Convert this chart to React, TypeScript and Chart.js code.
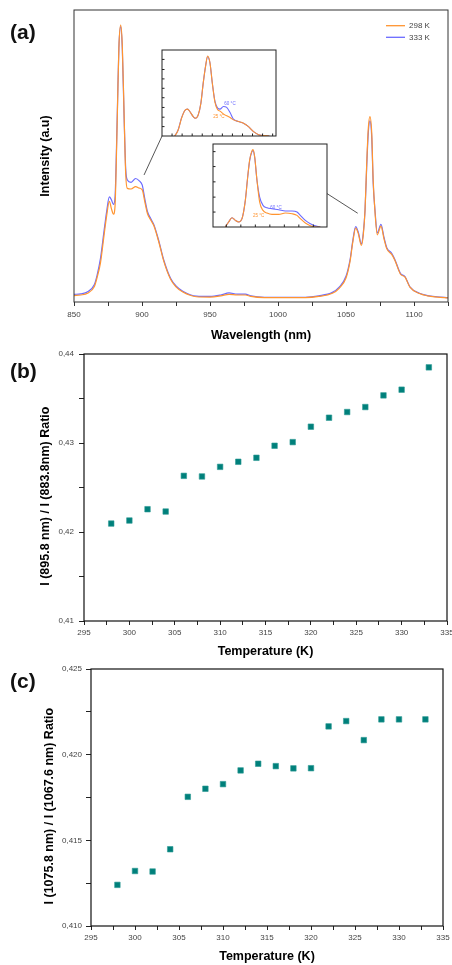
import React, { useEffect, useRef } from 'react';
import { Chart, registerables } from 'chart.js';

Chart.register(...registerables);

const FONT = "'Liberation Sans', Arial, Helvetica, sans-serif";

// ---------- Panel (a): emission spectra ----------
const WAVELENGTH = [
  850, 855, 860, 865, 867, 869.5, 872, 874, 876, 877.5, 879, 880.2, 881, 882, 883, 884.3, 885.5, 886.8,
  888, 889.2, 892, 895.3, 898, 900.2, 902, 904, 906.5, 908.8, 912.5, 916, 921, 925, 930, 940, 950, 958,
  964, 970, 976, 980, 990, 1000, 1020, 1030, 1040, 1045, 1050, 1053, 1055, 1057.1, 1059, 1061.3, 1062.7,
  1064, 1065.2, 1066.4, 1067.6, 1068.9, 1070, 1071.3, 1073, 1075.7, 1078, 1080, 1083.6, 1086, 1090,
  1093.4, 1097, 1104, 1110, 1117, 1125,
];
const I_298K = [
  2.2, 2.4, 3.0, 5.3, 8.4, 13.5, 22.5, 29.5, 34.5, 32, 30.1, 33, 46, 67, 87, 94.8, 88, 65,
  44, 38.9, 38.7, 39.5, 39, 38.4, 34.5, 30.3, 28, 26, 20.3, 14, 7.8, 5.2, 3.4, 1.8, 1.7, 2.1,
  2.6, 2.4, 2.4, 1.9, 1.5, 1.5, 1.5, 1.9, 3.0, 4.7, 8.2, 14, 20.5, 25.3, 23.5, 19.4, 23,
  31.5, 47, 59.5, 63.5, 58, 41.5, 31, 23, 26, 21.5, 18.2, 16.3, 14.2, 9.6,
  8.5, 5.1, 2.9, 2.1, 1.7, 1.4,
];
const I_333K = [
  2.6, 2.8, 3.5, 6, 9.2, 15, 24, 31, 36, 35, 33.4, 36, 48, 68, 87, 94.3, 87, 64,
  45.8, 41.8, 41, 42.3, 41.5, 40, 35.5, 31, 28.5, 26.4, 20.7, 14.4, 8.1, 5.5, 3.7, 2, 1.9, 2.4,
  3.1, 2.7, 2.7, 2.1, 1.6, 1.6, 1.6, 2.1, 3.3, 5.1, 8.8, 14.5, 21, 25.8, 24, 19.9, 23.5,
  31.5, 46, 58, 62, 56.6, 40.6, 31.5, 23.7, 26.6, 22, 18.6, 16.7, 14.5, 9.8,
  8.7, 5.2, 3, 2.2, 1.8, 1.5,
];
const SERIES_LABELS = ['298 K', '333 K'];
const SERIES_COLORS = ['#ff9430', '#6a6aff'];

// Connector lines from spectrum to insets (wavelength, intensity)
const CONNECTOR_1 = [901.5, 43.5, 914.9, 57];
const CONNECTOR_2 = [1035.8, 37.2, 1058.6, 30.4];

// ---------- Inset 1 (arbitrary units) ----------
const INSET1_X = [38, 48, 58, 68, 76, 83, 93, 100, 108, 116, 123, 130, 136, 143, 150, 158, 166, 173, 183, 193, 203, 213, 228, 243, 258, 273, 288, 308, 320];
const INSET1_298 = [0, 17, 52, 76, 80, 73, 58, 53, 63, 98, 158, 208, 238, 218, 158, 100, 78, 74, 66, 60, 55, 48, 43, 38, 28, 13, 4, 1, 0];
const INSET1_333 = [0, 18, 53, 76, 80, 73, 58, 53, 63, 98, 158, 208, 236, 218, 158, 103, 83, 80, 88, 85, 70, 50, 43, 38, 28, 13, 4, 1, 0];
const INSET1_XTICKS = [30, 60, 90, 120, 150, 180, 210, 240, 270, 300, 330];
const INSET1_YTICKS = [28, 56, 85, 114, 142, 170, 198, 228];
const INSET1_NOTES = [
  { text: '60 °C', x: 186, y: 95, s: 1 },
  { text: '25 °C', x: 153, y: 57, s: 0 },
];

// ---------- Inset 2 (arbitrary units) ----------
const INSET2_X = [37, 47, 57, 67, 77, 87, 97, 104, 110, 116, 120, 125, 132, 140, 150, 162, 177, 197, 217, 237, 252, 262, 277, 292, 312, 322];
const INSET2_298 = [0, 15, 28, 20, 15, 25, 80, 150, 202, 227, 233, 212, 140, 75, 50, 42, 38, 38, 42, 40, 35, 25, 12, 4, 0, 0];
const INSET2_333 = [0, 15, 28, 20, 15, 25, 80, 150, 200, 225, 230, 210, 140, 90, 65, 58, 55, 52, 48, 48, 45, 35, 20, 10, 2, 0];
const INSET2_XTICKS = [40, 83.5, 127, 170.5, 214, 257.5, 301];
const INSET2_YTICKS = [45, 90, 136, 182, 227];
const INSET2_NOTES = [
  { text: '60 °C', x: 172, y: 58, s: 1 },
  { text: '25 °C', x: 120, y: 35, s: 0 },
];

// ---------- Panels (b) and (c): ratios vs temperature ----------
const TEMPERATURE = [298, 300, 302, 304, 306, 308, 310, 312, 314, 316, 318, 320, 322, 324, 326, 328, 330, 333];
const RATIO_B = [0.42095, 0.42129, 0.42256, 0.4223, 0.42631, 0.42624, 0.42732, 0.42789, 0.42834, 0.42969, 0.4301, 0.43183, 0.43284, 0.43348, 0.43404, 0.43535, 0.43599, 0.4385];
const RATIO_C = [0.4124, 0.41321, 0.41318, 0.41448, 0.41754, 0.41801, 0.41828, 0.41908, 0.41947, 0.41933, 0.4192, 0.41921, 0.42165, 0.42196, 0.42085, 0.42206, 0.42206, 0.42206];

const TICK_FONT = { family: FONT, size: 8 };
const TITLE_FONT = { family: FONT, size: 12.5, weight: 'bold' as const };

const framePlugin = (color: string, width: number) => ({
  id: 'frame',
  afterDraw(chart: any) {
    const { ctx, chartArea: a } = chart;
    ctx.save();
    ctx.strokeStyle = color;
    ctx.lineWidth = width;
    ctx.strokeRect(a.left, a.top, a.right - a.left, a.bottom - a.top);
    ctx.restore();
  },
});

const noPad = (s: any) => {
  s.paddingLeft = 0;
  s.paddingRight = 0;
  s.paddingTop = 0;
  s.paddingBottom = 0;
};

function SpectrumChart() {
  const ref = useRef<HTMLCanvasElement>(null);
  useEffect(() => {
    const legendPlugin = {
      id: 'insideLegend',
      afterDraw(chart: any) {
        const { ctx, chartArea: a } = chart;
        ctx.save();
        chart.data.datasets.forEach((ds: any, i: number) => {
          const y = a.top + 15.7 + i * 11.6;
          ctx.strokeStyle = ds.borderColor;
          ctx.lineWidth = 1.3;
          ctx.beginPath();
          ctx.moveTo(a.right - 62, y);
          ctx.lineTo(a.right - 43, y);
          ctx.stroke();
          ctx.fillStyle = '#444';
          ctx.font = `8px ${FONT}`;
          ctx.textBaseline = 'middle';
          ctx.fillText(ds.label, a.right - 39, y + 0.5);
        });
        ctx.restore();
      },
    };
    const connectorPlugin = {
      id: 'connectors',
      afterDraw(chart: any) {
        const { ctx, scales } = chart;
        ctx.save();
        ctx.strokeStyle = '#444';
        ctx.lineWidth = 0.9;
        [CONNECTOR_1, CONNECTOR_2].forEach((c) => {
          ctx.beginPath();
          ctx.moveTo(scales.x.getPixelForValue(c[0]), scales.y.getPixelForValue(c[1]));
          ctx.lineTo(scales.x.getPixelForValue(c[2]), scales.y.getPixelForValue(c[3]));
          ctx.stroke();
        });
        ctx.restore();
      },
    };
    const chart = new Chart(ref.current!, {
      type: 'line',
      data: {
        datasets: [
          {
            label: SERIES_LABELS[0],
            data: WAVELENGTH.map((x, i) => ({ x, y: I_298K[i] })),
            borderColor: SERIES_COLORS[0],
            borderWidth: 1.2,
            pointRadius: 0,
            cubicInterpolationMode: 'monotone',
          },
          {
            label: SERIES_LABELS[1],
            data: WAVELENGTH.map((x, i) => ({ x, y: I_333K[i] })),
            borderColor: SERIES_COLORS[1],
            borderWidth: 1.2,
            pointRadius: 0,
            cubicInterpolationMode: 'monotone',
          },
        ],
      },
      options: {
        animation: false,
        responsive: false,
        layout: { padding: { left: 0, right: 4, top: 10, bottom: 0 }, autoPadding: false },
        plugins: { legend: { display: false }, tooltip: { enabled: false } },
        scales: {
          x: {
            type: 'linear',
            min: 850,
            max: 1125,
            afterFit: (s: any) => { s.height = 43; noPad(s); },
            ticks: {
              stepSize: 25,
              autoSkip: false,
              maxRotation: 0,
              padding: 4,
              font: TICK_FONT,
              color: '#444',
              callback: (v: any) => (Number(v) % 50 === 0 ? String(v) : ''),
            },
            grid: { drawOnChartArea: false, tickLength: 4, color: '#333' },
            border: { display: false },
            title: { display: true, text: 'Wavelength (nm)', font: TITLE_FONT, color: '#000', padding: { top: 0, bottom: 1.5 } },
          },
          y: {
            min: 0,
            max: 100,
            afterFit: (s: any) => { s.width = 74; noPad(s); },
            ticks: { display: false },
            grid: { display: false },
            border: { display: false },
            title: { display: true, text: 'Intensity (a.u)', font: TITLE_FONT, color: '#000', padding: { top: 38.5, bottom: 0 } },
          },
        },
      },
      plugins: [framePlugin('#333', 1), legendPlugin, connectorPlugin],
    } as any);
    return () => chart.destroy();
  }, []);
  return <canvas ref={ref} width={452} height={345} style={{ position: 'absolute', left: 0, top: 0, width: 452, height: 345 }} />;
}

function InsetChart(props: {
  xs: number[]; a: number[]; b: number[]; xmax: number; ymax: number;
  xticks: number[]; yticks: number[]; notes: { text: string; x: number; y: number; s: number }[];
  left: number; top: number; width: number; height: number;
}) {
  const ref = useRef<HTMLCanvasElement>(null);
  useEffect(() => {
    const { xs, a, b, xmax, ymax, xticks, yticks, notes } = props;
    const insetPlugin = {
      id: 'inset',
      beforeDraw(chart: any) {
        const { ctx, chartArea: c } = chart;
        ctx.save();
        ctx.fillStyle = '#fff';
        ctx.fillRect(c.left, c.top, c.right - c.left, c.bottom - c.top);
        ctx.restore();
      },
      afterDraw(chart: any) {
        const { ctx, chartArea: c, scales } = chart;
        ctx.save();
        ctx.strokeStyle = '#222';
        ctx.lineWidth = 1;
        ctx.beginPath();
        scales.x.ticks.forEach((t: any) => {
          const px = scales.x.getPixelForValue(t.value);
          ctx.moveTo(px, c.bottom);
          ctx.lineTo(px, c.bottom - 2.5);
        });
        scales.y.ticks.forEach((t: any) => {
          const py = scales.y.getPixelForValue(t.value);
          ctx.moveTo(c.left, py);
          ctx.lineTo(c.left + 2.5, py);
        });
        ctx.stroke();
        ctx.font = `4.5px ${FONT}`;
        ctx.textBaseline = 'middle';
        notes.forEach((n) => {
          ctx.fillStyle = SERIES_COLORS[n.s];
          ctx.fillText(n.text, scales.x.getPixelForValue(n.x), scales.y.getPixelForValue(n.y));
        });
        ctx.strokeStyle = '#222';
        ctx.lineWidth = 1;
        ctx.strokeRect(c.left, c.top, c.right - c.left, c.bottom - c.top);
        ctx.restore();
      },
    };
    const hiddenAxis = (ticks: number[], max: number, horizontal: boolean) => ({
      type: 'linear',
      min: 0,
      max,
      afterFit: (s: any) => { if (horizontal) s.height = 0; else s.width = 0; noPad(s); },
      afterBuildTicks: (s: any) => { s.ticks = ticks.map((v) => ({ value: v })); },
      ticks: { display: false },
      grid: { display: false },
      border: { display: false },
    });
    const chart = new Chart(ref.current!, {
      type: 'line',
      data: {
        datasets: [
          { label: SERIES_LABELS[0], data: xs.map((x, i) => ({ x, y: a[i] })), borderColor: SERIES_COLORS[0], borderWidth: 1.1, pointRadius: 0, cubicInterpolationMode: 'monotone' },
          { label: SERIES_LABELS[1], data: xs.map((x, i) => ({ x, y: b[i] })), borderColor: SERIES_COLORS[1], borderWidth: 1.1, pointRadius: 0, cubicInterpolationMode: 'monotone' },
        ],
      },
      options: {
        animation: false,
        responsive: false,
        layout: { padding: 1, autoPadding: false },
        plugins: { legend: { display: false }, tooltip: { enabled: false } },
        scales: { x: hiddenAxis(xticks, xmax, true), y: hiddenAxis(yticks, ymax, false) },
      },
      plugins: [insetPlugin],
    } as any);
    return () => chart.destroy();
  }, []);
  return (
    <canvas ref={ref} width={props.width} height={props.height}
      style={{ position: 'absolute', left: props.left, top: props.top, width: props.width, height: props.height }} />
  );
}

function RatioChart(props: {
  values: number[]; ymin: number; ymax: number; ystep: number; labelEvery: number; decimals: number;
  yTitle: string; top: number; height: number; area: { left: number; right: number; top: number; xh: number };
  yTitlePad: number; xTickPad: number; yTickPad: number; xTitlePad: number;
}) {
  const ref = useRef<HTMLCanvasElement>(null);
  useEffect(() => {
    const p = props;
    const scaleFactor = Math.pow(10, p.decimals + 1);
    const chart = new Chart(ref.current!, {
      type: 'scatter',
      data: {
        datasets: [{
          label: p.yTitle.trim(),
          data: TEMPERATURE.map((x, i) => ({ x, y: p.values[i] })),
          pointStyle: 'rect',
          pointRadius: 3.9,
          backgroundColor: '#00807b',
          borderColor: '#2e9b96',
          borderWidth: 0.6,
        }],
      },
      options: {
        animation: false,
        responsive: false,
        layout: { padding: { left: 0, right: 452 - p.area.right, top: p.area.top, bottom: 0 }, autoPadding: false },
        plugins: { legend: { display: false }, tooltip: { enabled: false } },
        scales: {
          x: {
            type: 'linear',
            min: 295,
            max: 335,
            afterFit: (s: any) => { s.height = p.area.xh; noPad(s); },
            ticks: {
              stepSize: 2.5,
              autoSkip: false,
              maxRotation: 0,
              padding: p.xTickPad,
              font: TICK_FONT,
              color: '#444',
              callback: (v: any) => (Number(v) % 5 === 0 ? String(v) : ''),
            },
            grid: { drawOnChartArea: false, tickLength: 4, color: '#222' },
            border: { display: false },
            title: { display: true, text: 'Temperature (K)', font: TITLE_FONT, color: '#000', padding: { top: 0, bottom: p.xTitlePad } },
          },
          y: {
            min: p.ymin,
            max: p.ymax,
            afterFit: (s: any) => { s.width = p.area.left; noPad(s); },
            ticks: {
              stepSize: p.ystep,
              autoSkip: false,
              padding: p.yTickPad,
              font: TICK_FONT,
              color: '#444',
              callback: (v: any) => {
                const k = Math.round(Number(v) * scaleFactor);
                return k % p.labelEvery === 0 ? (k / scaleFactor).toFixed(p.decimals).replace('.', ',') : '';
              },
            },
            grid: { drawOnChartArea: false, tickLength: 5, color: '#222' },
            border: { display: false },
            title: { display: true, text: p.yTitle, font: TITLE_FONT, color: '#000', padding: { top: p.yTitlePad, bottom: 0 } },
          },
        },
      },
      plugins: [framePlugin('#111', 1.2)],
    } as any);
    return () => chart.destroy();
  }, []);
  return (
    <canvas ref={ref} width={452} height={props.height}
      style={{ position: 'absolute', left: 0, top: props.top, width: 452, height: props.height }} />
  );
}

const panelLabel = (text: string, top: number) => (
  <div style={{ position: 'absolute', left: 10, top, fontFamily: FONT, fontWeight: 'bold', fontSize: 21, lineHeight: 1, color: '#111' }}>{text}</div>
);

export default function App() {
  return (
    <div style={{ position: 'absolute', left: 0, top: 0, width: 452, height: 965, background: '#fff', overflow: 'hidden' }}>
      <SpectrumChart />
      <InsetChart xs={INSET1_X} a={INSET1_298} b={INSET1_333} xmax={340} ymax={256}
        xticks={INSET1_XTICKS} yticks={INSET1_YTICKS} notes={INSET1_NOTES}
        left={161} top={49} width={116} height={88} />
      <InsetChart xs={INSET2_X} a={INSET2_298} b={INSET2_333} xmax={342} ymax={250}
        xticks={INSET2_XTICKS} yticks={INSET2_YTICKS} notes={INSET2_NOTES}
        left={212} top={143} width={116} height={85} />
      <RatioChart values={RATIO_B} ymin={0.41} ymax={0.44} ystep={0.005} labelEvery={10} decimals={2}
        yTitle={'I (895.8 nm) / I (883.8nm) Ratio     '} top={345} height={317}
        area={{ left: 84, right: 447, top: 9, xh: 41 }} yTitlePad={38.5} xTickPad={3} yTickPad={5} xTitlePad={2.5} />
      <RatioChart values={RATIO_C} ymin={0.41} ymax={0.425} ystep={0.0025} labelEvery={50} decimals={3}
        yTitle={'I (1075.8 nm) / I (1067.6 nm) Ratio     '} top={662} height={303}
        area={{ left: 91, right: 443, top: 7, xh: 39 }} yTitlePad={42.5} xTickPad={3} yTickPad={4} xTitlePad={0.5} />
      {panelLabel('(a)', 21)}
      {panelLabel('(b)', 360)}
      {panelLabel('(c)', 670)}
    </div>
  );
}
